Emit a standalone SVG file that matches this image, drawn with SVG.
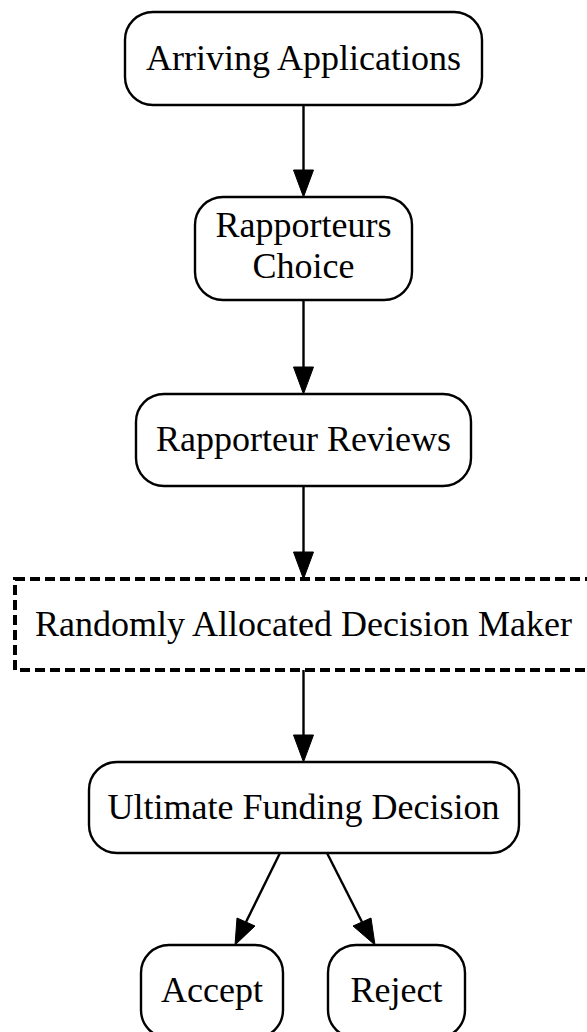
<svg xmlns="http://www.w3.org/2000/svg" width="587" height="1032" viewBox="0 0 587 1032">
<style>
.node rect{fill:#fff;stroke:#000;stroke-width:2.4}
.node text{font-family:"Liberation Serif","Times New Roman",serif;font-size:36px;text-anchor:middle;fill:#000}
.dash rect{stroke-width:4;stroke-dasharray:10,5}
.edges path{stroke:#000;stroke-width:2.4;fill:none}
.edges polygon{fill:#000;stroke:#000;stroke-width:1}
</style>
<rect width="587" height="1032" fill="#fff"/>
<g id="n1" class="node"><rect x="125" y="12" width="357" height="93" rx="28"/><text x="303.5" y="70">Arriving Applications</text></g>
<g id="n2" class="node"><rect x="195" y="197" width="217" height="103" rx="28"/><text x="303.5" y="237">Rapporteurs</text><text x="303.5" y="278">Choice</text></g>
<g id="n3" class="node"><rect x="136" y="394" width="335" height="92" rx="28"/><text x="303.5" y="451">Rapporteur Reviews</text></g>
<g id="n4" class="node dash"><rect x="15" y="579" width="577" height="91"/><text x="303.5" y="636">Randomly Allocated Decision Maker</text></g>
<g id="n5" class="node"><rect x="89" y="762" width="430" height="91" rx="28"/><text x="303.5" y="819">Ultimate Funding Decision</text></g>
<g id="n6" class="node"><rect x="141" y="945" width="142" height="93" rx="28"/><text x="212" y="1002">Accept</text></g>
<g id="n7" class="node"><rect x="328" y="945" width="137" height="93" rx="28"/><text x="396.5" y="1002">Reject</text></g>
<g id="edges" class="edges">
<path d="M303.5,105 V172"/><polygon points="293.5,170 313.5,170 303.5,197"/>
<path d="M303.5,300 V369"/><polygon points="293.5,367 313.5,367 303.5,394"/>
<path d="M303.5,486 V554"/><polygon points="293.5,552 313.5,552 303.5,579"/>
<path d="M303.5,670 V737"/><polygon points="293.5,735 313.5,735 303.5,762"/>
<path d="M280,853 L246,922"/><polygon points="237,918 255,926 235,945"/>
<path d="M327,853 L362,922"/><polygon points="353,926 371,918 375,945"/>
</g>
</svg>
